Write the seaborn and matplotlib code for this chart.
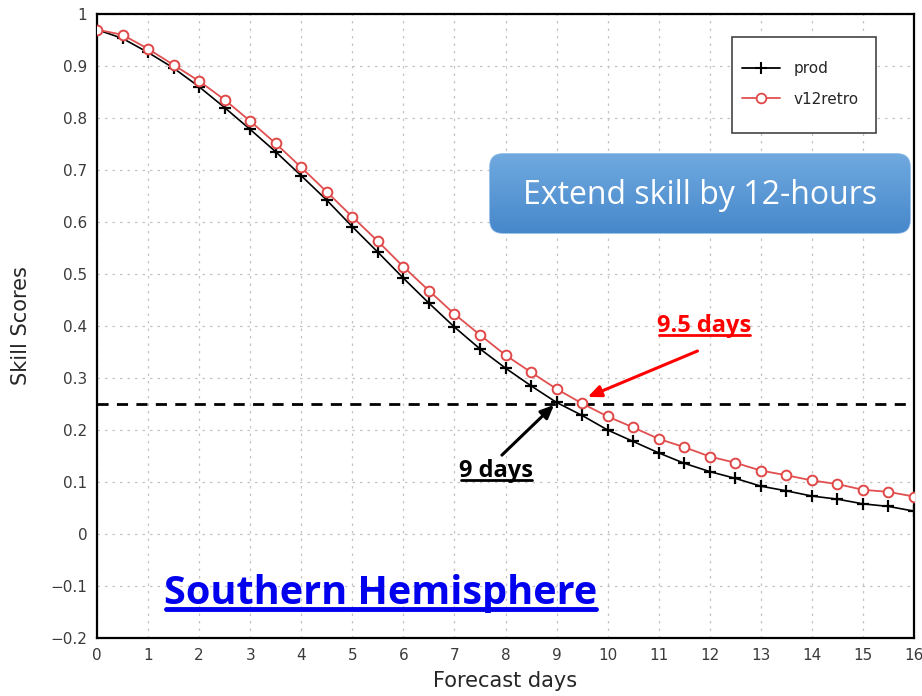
import numpy as np
import pandas as pd
import matplotlib
matplotlib.use("Agg")
import matplotlib.pyplot as plt
import seaborn as sns
from matplotlib.patches import FancyBboxPatch, Rectangle
from matplotlib.lines import Line2D

# ---------------- data ----------------
days = [i * 0.5 for i in range(33)]
prod = [0.970, 0.953, 0.926, 0.896, 0.860, 0.820, 0.778, 0.735, 0.689, 0.642,
        0.591, 0.542, 0.492, 0.444, 0.398, 0.356, 0.319, 0.285, 0.253, 0.228,
        0.200, 0.178, 0.156, 0.136, 0.120, 0.107, 0.092, 0.083, 0.073, 0.067,
        0.058, 0.053, 0.044]
v12retro = [0.970, 0.960, 0.933, 0.902, 0.871, 0.835, 0.794, 0.751, 0.705, 0.658,
            0.610, 0.563, 0.514, 0.468, 0.423, 0.383, 0.344, 0.311, 0.279, 0.251,
            0.226, 0.205, 0.183, 0.167, 0.149, 0.137, 0.122, 0.113, 0.103, 0.096,
            0.085, 0.081, 0.072]
series_names = ["prod", "v12retro"]
threshold = 0.25
x_ticks = list(range(0, 17))
y_ticks = [-0.2, -0.1, 0, 0.1, 0.2, 0.3, 0.4, 0.5, 0.6, 0.7, 0.8, 0.9, 1]
y_tick_labels = ["\u22120.2", "\u22120.1", "0", "0.1", "0.2", "0.3", "0.4",
                 "0.5", "0.6", "0.7", "0.8", "0.9", "1"]

df = pd.DataFrame({"days": days, "prod": prod, "v12retro": v12retro})

# ---------------- style ----------------
sns.set_style("white")
plt.rcParams["font.family"] = ["DejaVu Sans"]
ann_font = ["Open Sans", "DejaVu Sans"]

fig = plt.figure(figsize=(9.22, 6.96), dpi=100)
ax = fig.add_axes([97 / 922, 1 - 638 / 696, (914 - 97) / 922, (638 - 14) / 696])

# grid
for xv in x_ticks:
    ax.axvline(xv, color="#c4c4c4", lw=0.9, ls=(0, (2, 4)), zorder=0)
for yv in y_ticks:
    ax.axhline(yv, color="#c4c4c4", lw=0.9, ls=(0, (2, 4)), zorder=0)

# threshold line
ax.axhline(threshold, color="black", lw=2, ls=(0, (4, 3)), zorder=2)

sns.lineplot(data=df, x="days", y="prod", ax=ax, color="black", lw=1.2,
             marker="+", markersize=8, markeredgewidth=1.6,
             markeredgecolor="black", label="prod", zorder=3, legend=False)
sns.lineplot(data=df, x="days", y="v12retro", ax=ax, color="#e05050", lw=1.3,
             marker="o", markersize=7, markerfacecolor="white",
             markeredgecolor="#e04848", markeredgewidth=1.4,
             label="v12retro", zorder=4, legend=False)

ax.set_xlim(0, 16)
ax.set_ylim(-0.2, 1)
ax.set_xticks(x_ticks)
ax.set_yticks(y_ticks)
ax.set_yticklabels(y_tick_labels)
ax.tick_params(axis="both", direction="out", length=5, width=1, color="black",
               labelsize=11, labelcolor="#3a3a3a", pad=2)
ax.set_xlabel("Forecast days", fontsize=15, labelpad=6)
ax.set_ylabel("Skill Scores", fontsize=15, labelpad=14)
for s in ax.spines.values():
    s.set_color("black")
    s.set_linewidth(1.6)

# legend (frame drawn separately)
ax.add_patch(Rectangle((0.7772, 0.8093), 0.1763, 0.1538, transform=ax.transAxes,
                       facecolor="white", edgecolor="#444444", lw=1.2, zorder=5.5))
handles = [
    Line2D([], [], color="black", lw=1.3, marker="+", markersize=9, markeredgewidth=1.5),
    Line2D([], [], color="#e05050", lw=1.3, marker="o", markersize=7,
           markerfacecolor="white", markeredgecolor="#e04848", markeredgewidth=1.3),
]
leg = ax.legend(handles, series_names, loc="upper left",
                bbox_to_anchor=(0.7895, 0.924), frameon=False, fontsize=11,
                borderpad=0, labelspacing=1.0, handlelength=2.5,
                handletextpad=0.9, borderaxespad=0)
leg.set_zorder(6)

# blue rounded box with gradient
bx0, by0 = (490 - 97) / 817, 1 - (233 - 14) / 624
bw, bh = (910 - 490) / 817, (233 - 154) / 624
box = FancyBboxPatch((bx0, by0), bw, bh,
                     boxstyle="round,pad=0,rounding_size=0.016",
                     mutation_aspect=817 / 624, transform=ax.transAxes,
                     facecolor="#5b9bd5", edgecolor="#8bb8e6", lw=1.2, zorder=7)
ax.add_patch(box)
grad = np.linspace(0, 1, 100).reshape(-1, 1)
cmap = matplotlib.colors.LinearSegmentedColormap.from_list("g", ["#6fa9df", "#4788cb"])
im = ax.imshow(grad, extent=[bx0, bx0 + bw, by0, by0 + bh], transform=ax.transAxes,
               cmap=cmap, aspect="auto", zorder=7.5, origin="upper")
im.set_clip_path(box)
ax.set_xlim(0, 16)
ax.set_ylim(-0.2, 1)
ax.text(bx0 + bw / 2, by0 + bh / 2 - 0.004, "Extend skill by 12-hours",
        transform=ax.transAxes, ha="center", va="center", color="white",
        fontsize=23, family=ann_font, zorder=8)

# annotations
t95 = ax.text(11.89, 0.40, "9.5 days", ha="center", va="center", color="#ff0000",
              fontsize=17, fontweight="bold", family=ann_font, zorder=8)
t9 = ax.text(7.81, 0.122, "9 days", ha="center", va="center", color="black",
             fontsize=17, fontweight="bold", family=ann_font, zorder=8)
tsh = ax.text(1.31, -0.114, "Southern Hemisphere", ha="left", va="center",
              color="#0000ee", fontsize=28.5, fontweight="bold",
              family=ann_font, zorder=8)

ax.annotate("", xy=(9.56, 0.2615), xytext=(11.81, 0.354),
            arrowprops=dict(arrowstyle="-|>,head_length=0.8,head_width=0.35",
                            color="#ff0000", lw=2.2), zorder=8)
ax.annotate("", xy=(8.99, 0.252), xytext=(7.89, 0.148),
            arrowprops=dict(arrowstyle="-|>,head_length=0.8,head_width=0.35",
                            color="black", lw=2.2), zorder=8)

# underlines
fig.canvas.draw()
renderer = fig.canvas.get_renderer()
inv = fig.transFigure.inverted()
for t, col, lw, off in [(t95, "#ff0000", 2.0, 3), (t9, "black", 2.0, 3), (tsh, "#0000ee", 3.5, 4)]:
    bb = t.get_window_extent(renderer)
    (x0, y0), (x1, _) = inv.transform([(bb.x0 + 2, bb.y0 + off), (bb.x1 - 1, bb.y0 + off)])
    fig.add_artist(Line2D([x0, x1], [y0, y0], color=col, lw=lw,
                          transform=fig.transFigure, zorder=9))

fig.savefig("out.png", dpi=100)
